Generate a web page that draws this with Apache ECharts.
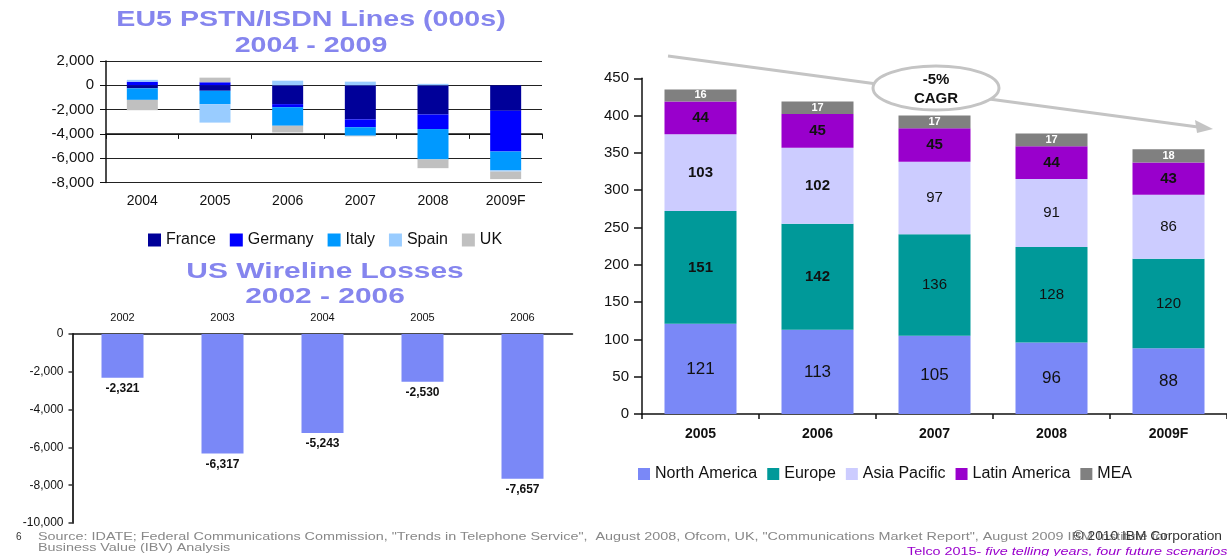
<!DOCTYPE html>
<html>
<head>
<meta charset="utf-8">
<script src="https://cdn.jsdelivr.net/npm/echarts@6/dist/echarts.min.js"></script>
<style>
  html, body { margin: 0; padding: 0; background: #fff; }
  #main { width: 1227px; height: 556px; }
</style>
</head>
<body>
<div id="main"></div>
<script>
// EU5 PSTN/ISDN lines (000s), net change per year
const euYears   = ['2004', '2005', '2006', '2007', '2008', '2009F']
const euFrance  = [-250, -450, -1550, -2800, -2400, -2100]
const euGermany = [300, 250, -250, -650, -1200, -3350]
const euItaly   = [-950, -1100, -1530, -700, -2500, -1550]
const euSpain   = [150, -1520, 380, 300, 120, -100]
const euUK      = [-850, 380, -550, -50, -720, -620]

// US wireline losses (000s)
const usYears  = ['2002', '2003', '2004', '2005', '2006']
const usLosses = [-2321, -6317, -5243, -2530, -7657]

// Global lines by region (millions)
const rgYears   = ['2005', '2006', '2007', '2008', '2009F']
const rgNorthAm = [121, 113, 105, 96, 88]
const rgEurope  = [151, 142, 136, 128, 120]
const rgAsiaPac = [103, 102, 97, 91, 86]
const rgLatAm   = [44, 45, 45, 44, 43]
const rgMEA     = [16, 17, 17, 17, 18]

const FONT = '"Liberation Sans", Arial, sans-serif'
const fmt = (v) => v.toLocaleString('en-US')
const TITLE_COLOR = '#8585ee'

const chart = echarts.init(document.getElementById('main'), null, { renderer: 'canvas' })

// labels in the region chart: first two years are bold in the source
const boldFirstTwo = (p) => (p.dataIndex < 2 ? `{b|${p.value}}` : `{n|${p.value}}`)
const boldRich = {
  b: { fontSize: 15, fontWeight: 'bold', fontFamily: FONT, color: '#111' },
  n: { fontSize: 15, fontFamily: FONT, color: '#111' },
}

const euSeries = [
  ['France', euFrance, '#000099'],
  ['Germany', euGermany, '#0000ff'],
  ['Italy', euItaly, '#0099ff'],
  ['Spain', euSpain, '#99ccff'],
  ['UK', euUK, '#c0c0c0'],
].map(([name, data, color]) => ({
  name, type: 'bar', data, stack: 'eu', xAxisIndex: 0, yAxisIndex: 0,
  barWidth: 31, itemStyle: { color }, stackStrategy: 'samesign',
}))

const rgLabel = (extra) => ({ show: true, position: 'inside', fontFamily: FONT, color: '#111', ...extra })

const rgSeries = [
  { name: 'North America', data: rgNorthAm, color: '#7a88f7', label: rgLabel({ fontSize: 17 }) },
  { name: 'Europe', data: rgEurope, color: '#009999', label: rgLabel({ formatter: boldFirstTwo, rich: boldRich }) },
  { name: 'Asia Pacific', data: rgAsiaPac, color: '#ccccff', label: rgLabel({ formatter: boldFirstTwo, rich: boldRich }) },
  { name: 'Latin America', data: rgLatAm, color: '#9900cc', label: rgLabel({ fontSize: 15, fontWeight: 'bold' }) },
  { name: 'MEA', data: rgMEA, color: '#808080', label: rgLabel({ fontSize: 11, fontWeight: 'bold', color: '#fff' }) },
].map((s) => ({
  name: s.name, type: 'bar', data: s.data, stack: 'rg', xAxisIndex: 3, yAxisIndex: 2,
  barWidth: 72, itemStyle: { color: s.color }, label: s.label,
}))

chart.setOption({
  backgroundColor: '#fff',
  animation: false,
  textStyle: { fontFamily: FONT },
  grid: [
    { left: 106, top: 61, width: 436, height: 121.5 },   // EU5
    { left: 72.5, top: 334, width: 500, height: 189 },   // US
    { left: 642, top: 78.3, width: 600, height: 335.7 }, // regions
  ],
  legend: [
    {
      data: euSeries.map((s) => s.name), left: 143, top: 227,
      itemWidth: 13, itemHeight: 13, itemGap: 14, icon: 'rect',
      textStyle: { fontSize: 16, color: '#111', fontFamily: FONT },
    },
    {
      data: rgSeries.map((s) => s.name), left: 633, top: 461,
      itemWidth: 12, itemHeight: 12, itemGap: 10, icon: 'rect',
      textStyle: { fontSize: 16, color: '#111', fontFamily: FONT },
    },
  ],
  xAxis: [
    { // EU5 labels at the bottom
      type: 'category', gridIndex: 0, data: euYears, position: 'bottom',
      axisLine: { show: false, onZero: false }, axisTick: { show: false },
      axisLabel: { fontSize: 14, color: '#111', margin: 12 },
    },
    { // EU5 axis line drawn through -4,000 (as in the source)
      type: 'category', gridIndex: 0, data: euYears, position: 'bottom', offset: -48.6,
      axisLine: { show: true, onZero: false, lineStyle: { color: '#111', width: 1.5 } },
      axisTick: { show: true, length: 5, lineStyle: { color: '#111' } },
      axisLabel: { show: false },
    },
    { // US
      type: 'category', gridIndex: 1, data: usYears, position: 'top',
      axisLine: { show: true, lineStyle: { color: '#111', width: 1.5 } }, axisTick: { show: false },
      axisLabel: { fontSize: 11, color: '#111', margin: 11 },
    },
    { // regions
      type: 'category', gridIndex: 2, data: rgYears,
      axisLine: { show: true, lineStyle: { color: '#111', width: 1.5 } },
      axisTick: { show: true, length: 5, lineStyle: { color: '#111', width: 1.5 } },
      axisLabel: { fontSize: 14, fontWeight: 'bold', color: '#111', margin: 13 },
    },
  ],
  yAxis: [
    {
      type: 'value', gridIndex: 0, min: -8000, max: 2000, interval: 2000,
      axisLine: { show: true, lineStyle: { color: '#111', width: 1.5 } },
      axisTick: { show: true, length: 6, lineStyle: { color: '#111' } },
      axisLabel: { fontSize: 15, color: '#111', margin: 12, formatter: fmt },
      splitLine: { show: true, lineStyle: { color: '#222', width: 1 } },
    },
    {
      type: 'value', gridIndex: 1, min: -10000, max: 0, interval: 2000,
      axisLine: { show: true, lineStyle: { color: '#333', width: 2 } },
      axisTick: { show: true, length: 4, lineStyle: { color: '#333', width: 1.5 } },
      axisLabel: { fontSize: 12, color: '#111', margin: 9, formatter: fmt },
      splitLine: { show: false },
    },
    {
      type: 'value', gridIndex: 2, min: 0, max: 450, interval: 50,
      axisLine: { show: true, lineStyle: { color: '#111', width: 1.5 } },
      axisTick: { show: true, length: 8, lineStyle: { color: '#111', width: 1.5 } },
      axisLabel: { fontSize: 15, color: '#111', margin: 13 },
      splitLine: { show: false },
    },
  ],
  series: [
    ...euSeries,
    {
      name: 'US losses', type: 'bar', data: usLosses, xAxisIndex: 2, yAxisIndex: 1,
      barWidth: 42, itemStyle: { color: '#7a88f7' },
      label: { show: true, position: 'bottom', distance: 5, fontSize: 12, fontWeight: 'bold',
        color: '#111', fontFamily: FONT, formatter: (p) => fmt(p.value) },
    },
    ...rgSeries,
  ],
  graphic: [
    // panel titles (source type is stretched horizontally)
    { type: 'text', x: 311, y: 7, scaleX: 1.3, style: { text: 'EU5 PSTN/ISDN Lines (000s)\n2004 - 2009',
        textAlign: 'center', fill: TITLE_COLOR, font: `bold 22px ${FONT}`, lineHeight: 26 } },
    { type: 'text', x: 325, y: 259, scaleX: 1.36, style: { text: 'US Wireline Losses\n2002 - 2006',
        textAlign: 'center', fill: TITLE_COLOR, font: `bold 22px ${FONT}`, lineHeight: 25 } },
    // CAGR trend arrow
    { type: 'line', shape: { x1: 668, y1: 56, x2: 1198, y2: 127 }, style: { stroke: '#c4c4c4', lineWidth: 3 }, z: 10 },
    { type: 'polygon', shape: { points: [[1213, 129], [1195, 120], [1197, 133]] }, style: { fill: '#c4c4c4' }, z: 10 },
    { type: 'ellipse', shape: { cx: 936, cy: 88, rx: 63, ry: 22 }, style: { fill: '#fff', stroke: '#c4c4c4', lineWidth: 3 }, z: 11 },
    { type: 'text', x: 936, y: 70, z: 12, style: { text: '-5%\nCAGR', textAlign: 'center',
        fill: '#111', font: `bold 15px ${FONT}`, lineHeight: 19 } },
    // footer
    { type: 'text', x: 16, y: 532, style: { text: '6', fill: '#333', font: `10px ${FONT}` } },
    { type: 'text', x: 38, y: 531, scaleX: 1.25, style: {
        text: 'Source: IDATE; Federal Communications Commission, "Trends in Telephone Service",  August 2008, Ofcom, UK, "Communications Market Report", August 2009 IBM Institute for\nBusiness Value (IBV) Analysis',
        fill: '#888', font: `11.5px ${FONT}`, lineHeight: 11.5 } },
    { type: 'text', x: 1222, y: 530, scaleX: 1.1, z: 5, style: { text: '© 2010 IBM Corporation', textAlign: 'right',
        fill: '#333', font: `12.5px ${FONT}` } },
    { type: 'text', x: 907, y: 546, scaleX: 1.25, style: {
        text: '{n|Telco 2015- }{i|five telling years, four future scenarios}',
        rich: { n: { fill: '#9900cc', font: `11.5px ${FONT}` }, i: { fill: '#9900cc', font: `italic 11.5px ${FONT}` } } } },
  ],
})
</script>
</body>
</html>
